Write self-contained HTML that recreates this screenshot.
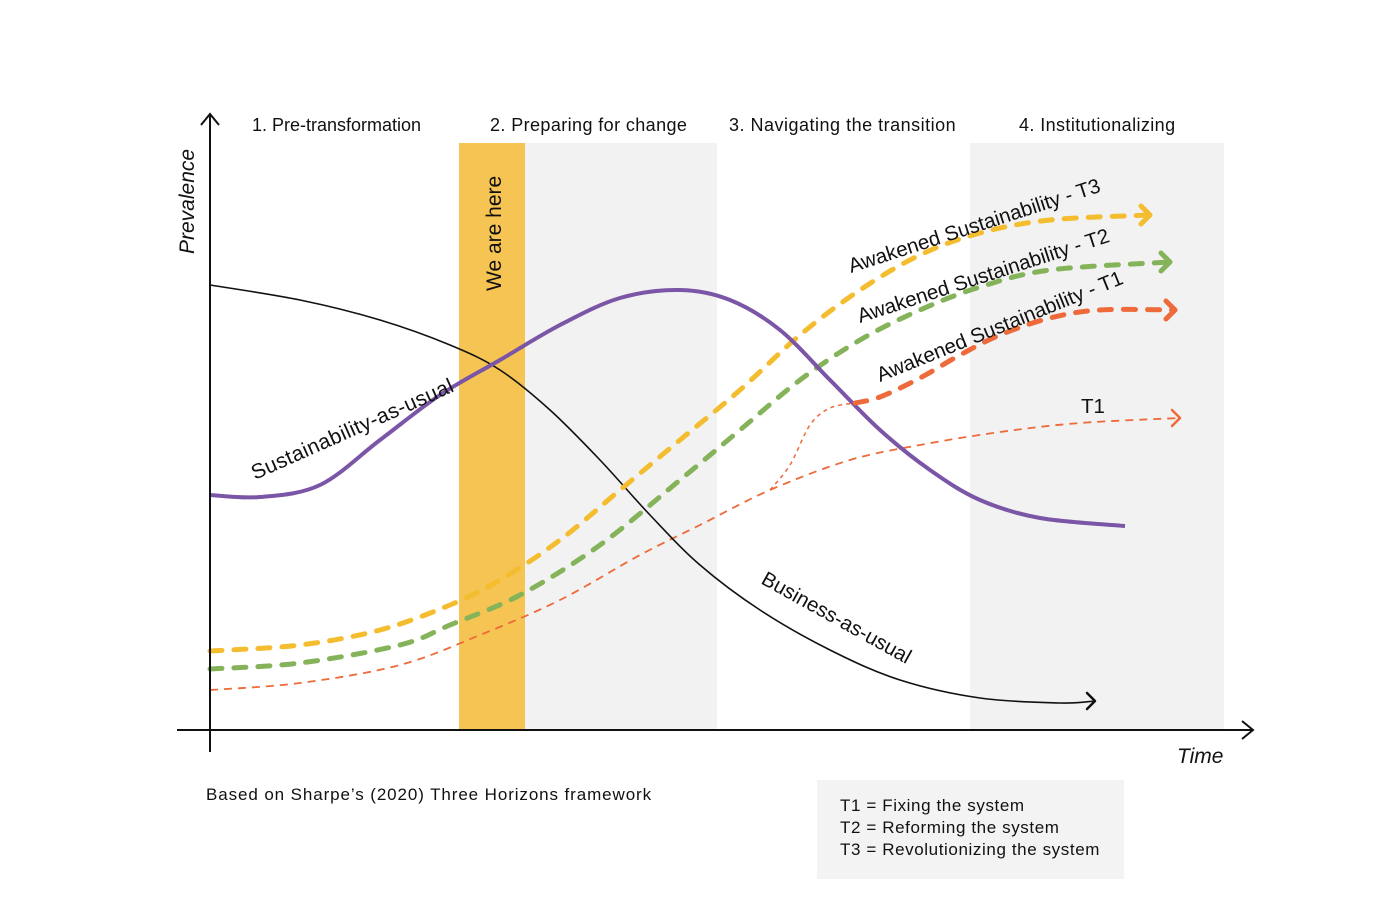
<!DOCTYPE html>
<html><head><meta charset="utf-8"><style>
body{margin:0;background:#fff;}
svg{display:block;font-family:"Liberation Sans",sans-serif;}
</style></head><body>
<svg id="chart" width="1400" height="906" viewBox="0 0 1400 906">
<rect x="0" y="0" width="1400" height="906" fill="#fff"/>
<g id="bands"></g>
<g id="curves"></g>
<g id="axes" stroke="#111" stroke-width="2" fill="none">
 <line x1="210" y1="752" x2="210" y2="114"/>
 <polyline points="201,125 210,114 219,125"/>
 <line x1="177" y1="730" x2="1252" y2="730"/>
 <polyline points="1242,721 1253,730 1242,739"/>
</g>
<text x="0" y="0" transform="translate(194,254) rotate(-90)" font-size="21" font-style="italic" fill="#111">Prevalence</text>
<text x="1177" y="763" font-size="21" font-style="italic" fill="#111">Time</text>
<g font-size="18" fill="#111">
 <text x="252" y="131">1. Pre-transformation</text>
 <text x="490" y="131" letter-spacing="0.4">2. Preparing for change</text>
 <text x="729" y="131" letter-spacing="0.5">3. Navigating the transition</text>
 <text x="1019" y="131" letter-spacing="0.4">4. Institutionalizing</text>
</g>
<text transform="translate(501,291) rotate(-90)" font-size="21" fill="#111">We are here</text>
<g font-size="20.5" fill="#111">
 <text transform="translate(255,480) rotate(-24)" font-size="21" letter-spacing="0.4">Sustainability-as-usual</text>
 <text transform="translate(760,583) rotate(29)">Business-as-usual</text>
 <text transform="translate(851,273) rotate(-18)">Awakened Sustainability - T3</text>
 <text transform="translate(860,323) rotate(-18)">Awakened Sustainability - T2</text>
 <text transform="translate(880,382) rotate(-22)">Awakened Sustainability - T1</text>
 <text x="1081" y="413">T1</text>
</g>
<text x="206" y="800" font-size="17" letter-spacing="0.9" fill="#111">Based on Sharpe’s (2020) Three Horizons framework</text>
<g>
 <rect x="817" y="780" width="307" height="99" fill="#f2f3f2"/>
 <text x="840" y="811" font-size="17" letter-spacing="0.6" fill="#111">T1 = Fixing the system</text>
 <text x="840" y="833" font-size="17" letter-spacing="0.6" fill="#111">T2 = Reforming the system</text>
 <text x="840" y="855" font-size="17" letter-spacing="0.6" fill="#111">T3 = Revolutionizing the system</text>
</g>
</svg>
<script>
// data in chart units: time 0..1040, prevalence 0..620
const bandStarts = [249, 315, 760];
const bandEnds = [315, 507, 1014];
const bandTop = 587;
const purpleT = [0,50,110,170,230,290,350,410,470,520,570,620,670,720,770,830,915];
const purpleV = [235,233,245,290,335,370,405,432,440,430,400,350,300,260,230,212,204];
const blackT = [0,90,170,240,290,340,390,440,490,550,620,690,770,850,885];
const blackV = [445,430,410,385,360,320,270,215,165,120,80,50,32,27,29];
const t3T = [0,90,170,240,290,350,410,470,530,590,650,710,770,840,940];
const t3V = [79,85,100,125,150,190,240,290,340,395,440,475,497,510,515];
const t2T = [0,90,190,240,310,390,470,530,590,650,710,770,840,960];
const t2V = [61,67,85,105,135,185,250,300,350,390,420,443,460,468];
const t1thinT = [0,90,190,270,350,430,490,560,640,710,790,870,970];
const t1thinV = [40,47,65,95,130,175,205,240,270,285,298,307,312];
const branchT = [560,580,600,620,645];
const branchV = [240,265,305,322,327];
const t1T = [645,670,710,750,790,840,890,965];
const t1V = [327,333,352,375,395,412,420,420];

const X0=210, Y0=730;
function sx(t){return X0+t;}
function sy(v){return Y0-v;}
const NS="http://www.w3.org/2000/svg";
function pathD(ts,vs){
  const p=ts.map((t,i)=>[sx(t),sy(vs[i])]);
  let d="M"+p[0][0]+","+p[0][1];
  for(let i=0;i<p.length-1;i++){
    const a=p[i-1]||p[i],b=p[i],c=p[i+1],e=p[i+2]||c;
    const c1=[b[0]+(c[0]-a[0])/6,b[1]+(c[1]-a[1])/6];
    const c2=[c[0]-(e[0]-b[0])/6,c[1]-(e[1]-b[1])/6];
    d+=" C"+c1+" "+c2+" "+c;
  }
  return d;
}
const bands=document.getElementById('bands');
for(let i=0;i<bandStarts.length;i++){
  const r=document.createElementNS(NS,'rect');
  r.setAttribute('x',sx(bandStarts[i]));r.setAttribute('y',sy(bandTop));
  r.setAttribute('width',bandEnds[i]-bandStarts[i]);r.setAttribute('height',bandTop);
  r.setAttribute('fill',i===0?'#f5c452':'#f1f2f1');
  
  
  bands.appendChild(r);
}
const g=document.getElementById('curves');
function curve(ts,vs,color,w,dash,name,arrow,as){
  const p=document.createElementNS(NS,'path');
  p.setAttribute('d',pathD(ts,vs));p.setAttribute('fill','none');
  p.setAttribute('stroke',color);p.setAttribute('stroke-width',w);
  p.setAttribute('stroke-linecap',dash&&w>3?'round':'butt');
  if(dash)p.setAttribute('stroke-dasharray',dash);
  
  
  g.appendChild(p);
  if(arrow){
    const n=ts.length-1,x=sx(ts[n]),y=sy(vs[n]);
    const a=document.createElementNS(NS,'polyline');
    a.setAttribute('points',(x-as)+","+(y-as)+" "+x+","+y+" "+(x-as)+","+(y+as));
    a.setAttribute('fill','none');a.setAttribute('stroke',color);a.setAttribute('stroke-width',Math.max(w,2.5));
    a.setAttribute('stroke-linecap','round');a.setAttribute('stroke-linejoin','round');
    
    
    g.appendChild(a);
  }
}
curve(t1thinT,t1thinV,'#ee6a3a',1.8,'8 6','t1-thin-line',true,8);
curve(branchT,branchV,'#ee6a3a',1.5,'4 4','t1-branch-line',false,0);
curve(blackT,blackV,'#111',1.6,null,'business-as-usual-line',true,8);
curve(t3T,t3V,'#f4bd2f',5,'12 12','awakened-t3-line',true,9);
curve(t2T,t2V,'#85b35a',5,'12 12','awakened-t2-line',true,9);
curve(purpleT,purpleV,'#7b55a6',4,null,'sustainability-as-usual-line',false,0);
curve(t1T,t1V,'#ee6a3a',5,'12 12','awakened-t1-line',true,9);
</script>
</body></html>
